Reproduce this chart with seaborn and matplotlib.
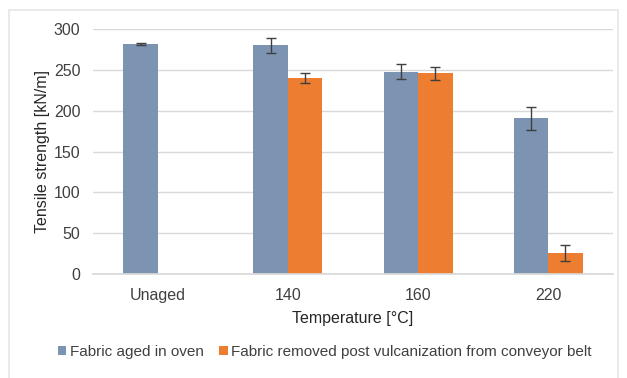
import numpy as np
import pandas as pd
import matplotlib
matplotlib.use("Agg")
import matplotlib.pyplot as plt
from matplotlib.patches import Patch, Rectangle
import seaborn as sns

# Tensile strength of conveyor-belt fabric after thermal ageing
temperatures = ["Unaged", "140", "160", "220"]
series_names = ["Fabric aged in oven",
                "Fabric removed post vulcanization from conveyor belt"]
oven_strength = [282, 280, 248, 191]
oven_err = [1, 9, 9, 14]
belt_strength = [np.nan, 240, 246, 26]
belt_err = [np.nan, 6, 8, 10]

colors = ["#7d93b2", "#ed7d31"]

df = pd.DataFrame({
    "Temperature": temperatures * 2,
    "Series": [series_names[0]] * 4 + [series_names[1]] * 4,
    "Strength": oven_strength + belt_strength,
    "Err": oven_err + belt_err,
})

sns.set_theme(style="white")
plt.rcParams["font.family"] = ["Liberation Sans", "DejaVu Sans"]

fig = plt.figure(figsize=(6.27, 3.78), dpi=100)
ax = fig.add_axes([0.148, 0.275, 0.83, 0.648])

sns.barplot(data=df, x="Temperature", y="Strength", hue="Series",
            order=temperatures, hue_order=series_names, palette=colors,
            width=0.53, errorbar=None, saturation=1, legend=False,
            linewidth=0, ax=ax)

# error bars placed at the centres of the drawn bars
for container, name in zip(ax.containers, series_names):
    sub = df[df["Series"] == name].set_index("Temperature")
    sub = sub.dropna(subset=["Strength"])
    for bar, (_, row) in zip(container.patches, sub.iterrows()):
        xc = bar.get_x() + bar.get_width() / 2
        ax.errorbar(xc, bar.get_height(), yerr=row["Err"], fmt="none",
                    ecolor="#3f3f3f", elinewidth=1.0, capsize=3.5,
                    capthick=1.0, zorder=5)

ax.set_ylim(0, 300)
ax.set_yticks(range(0, 301, 50))
ax.set_xlim(-0.5, 3.5)
ax.yaxis.grid(True, color="#d9d9d9", linewidth=1.0)
ax.set_axisbelow(True)
for s in ["top", "right", "left"]:
    ax.spines[s].set_visible(False)
ax.spines["bottom"].set_color("#d9d9d9")
ax.tick_params(axis="both", length=0, labelsize=11.5, colors="#404040")
ax.tick_params(axis="x", pad=10)
ax.tick_params(axis="y", pad=9)
ax.set_xlabel("Temperature [°C]", fontsize=11.5, color="#262626", labelpad=6)
ax.set_ylabel("Tensile strength [kN/m]", fontsize=11.5, color="#262626",
              labelpad=3)

handles = [Patch(facecolor=c, edgecolor="none") for c in colors]
fig.legend(handles, series_names, loc="center", bbox_to_anchor=(0.518, 0.068),
           ncol=2, frameon=False, fontsize=11, handlelength=0.55,
           handleheight=0.55, handletextpad=0.25, columnspacing=1.0,
           labelcolor="#404040")

# faint outer frame of the chart area
fig.patches.append(Rectangle((9 / 627, -0.01), 609 / 627, 1 - 10 / 378 + 0.01,
                             transform=fig.transFigure, fill=False,
                             edgecolor="#e6e6e6", linewidth=1.2))

fig.savefig("out.png", dpi=100)
